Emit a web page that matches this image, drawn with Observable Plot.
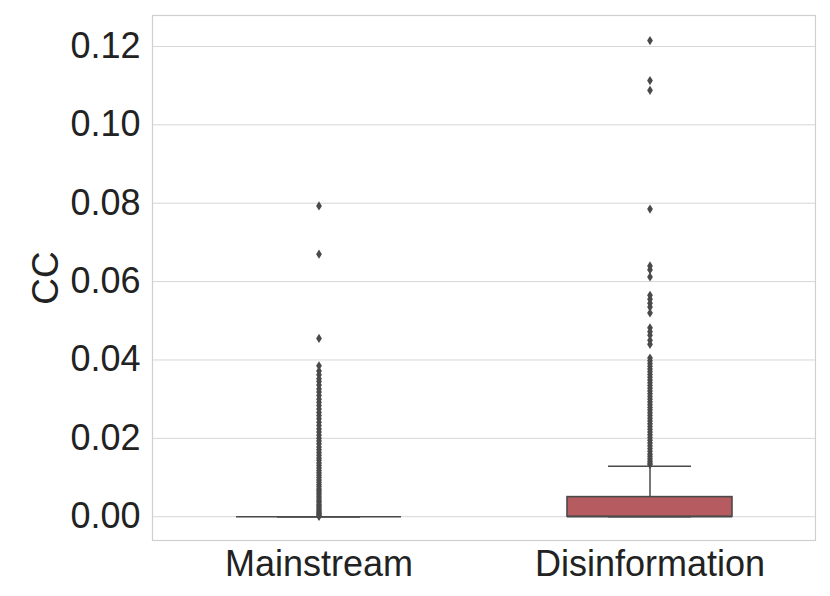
<!DOCTYPE html>
<html>
<head>
<meta charset="utf-8">
<script src="https://cdn.jsdelivr.net/npm/d3@7"></script>
<script src="https://cdn.jsdelivr.net/npm/@observablehq/plot@0.6"></script>
<style>
  html, body { margin: 0; padding: 0; background: #fff; }
  #chart { width: 830px; height: 596px; }
</style>
</head>
<body>
<div id="chart"></div>
<script>
// ---- data ----
const categories = ["Mainstream", "Disinformation"];
const q1 = [0, 0];
const median = [0, 0];
const q3 = [0, 0.0050];
const whiskerLow = [0, 0];
const whiskerHigh = [0, 0.0129];
const yTicks = [0, 0.02, 0.04, 0.06, 0.08, 0.10, 0.12];

const outliersMainstream = [
  0.0793, 0.0670, 0.0455, 0.0385, 0.0372, 0.0362, 0.0352, 0.0345, 0.0336, 0.0326,
  0.0318, 0.0309, 0.0300, 0.0292, 0.0284, 0.0275, 0.0266, 0.0258, 0.0250, 0.0241,
  0.0233, 0.0224, 0.0216, 0.0208, 0.0200, 0.0193, 0.0186, 0.0178, 0.0171, 0.0164,
  0.0157, 0.0150, 0.0144, 0.0137, 0.0131, 0.0124, 0.0118, 0.0112, 0.0106, 0.0100,
  0.0094, 0.0088, 0.0082, 0.0077, 0.0071, 0.0066, 0.0061, 0.0056, 0.0051, 0.0046,
  0.0041, 0.0037, 0.0032, 0.0028, 0.0024, 0.0020, 0.0016, 0.0012, 0.0009, 0.0006,
  0.0003, 0.0001
];
const outliersDisinformation = [
  0.1215, 0.1113, 0.1088, 0.0785, 0.0640, 0.0630, 0.0612, 0.0565, 0.0555, 0.0545,
  0.0535, 0.0520, 0.0482, 0.0472, 0.0463, 0.0450, 0.0440, 0.0405, 0.0398, 0.0391,
  0.0384, 0.0377, 0.0370, 0.0363, 0.0356, 0.0349, 0.0342, 0.0335, 0.0328, 0.0321,
  0.0314, 0.0307, 0.0300, 0.0293, 0.0286, 0.0279, 0.0272, 0.0265, 0.0258, 0.0251,
  0.0244, 0.0237, 0.0230, 0.0223, 0.0216, 0.0209, 0.0202, 0.0195, 0.0188, 0.0181,
  0.0174, 0.0167, 0.0160, 0.0154, 0.0148, 0.0142, 0.0137, 0.0133
];

// ---- tables ----
const boxes = categories.map((c, i) => ({
  cat: c, q1: q1[i], med: median[i], q3: q3[i], lo: whiskerLow[i], hi: whiskerHigh[i]
}));
const fliers = [
  ...outliersMainstream.map(v => ({cat: categories[0], v})),
  ...outliersDisinformation.map(v => ({cat: categories[1], v}))
];

const boxFill = ["#ffffff00", "#b65c60"];
const lineColor = "#4a4a4a";
const font = "'Liberation Sans', Arial, Helvetica, sans-serif";

// thin diamond (matplotlib 'd')
const thinDiamond = {
  draw(ctx, size) {
    const r = Math.sqrt(size / Math.PI);
    const h = r * 1.15, w = r * 0.72;
    ctx.moveTo(0, -h);
    ctx.lineTo(w, 0);
    ctx.lineTo(0, h);
    ctx.lineTo(-w, 0);
    ctx.closePath();
  }
};

const W = 830, H = 596;
const chart = Plot.plot({
  width: W,
  height: H,
  marginLeft: 152,
  marginRight: 15,
  marginTop: 15,
  marginBottom: 56,
  style: {fontFamily: font, color: "#222222", background: "#ffffff"},
  x: {type: "band", domain: categories, padding: 0, label: null},
  y: {domain: [-0.00607, 0.1279], label: null},
  marks: [
    Plot.gridY(yTicks, {stroke: "#d6d6d6", strokeOpacity: 1, strokeWidth: 1}),
    Plot.frame({stroke: "#cfcfcf", strokeWidth: 1.2}),
    Plot.axisY({ticks: yTicks, tickFormat: d3.format(".2f"), tickSize: 0, tickPadding: 12, fontSize: 36, label: null}),
    Plot.axisX({tickSize: 0, tickPadding: 10, fontSize: 36, label: null}),
    Plot.text(["CC"], {frameAnchor: "left", dx: -106, rotate: -90, textAnchor: "middle", fontSize: 37, fill: "#222222"}),
    // whiskers
    Plot.ruleX(boxes, {x: "cat", y1: "q3", y2: "hi", stroke: lineColor, strokeWidth: 1.5}),
    Plot.ruleX(boxes, {x: "cat", y1: "lo", y2: "q1", stroke: lineColor, strokeWidth: 1.5}),
    // boxes
    Plot.rectY(boxes, {x: "cat", y1: "q1", y2: "q3", fill: (d, i) => boxFill[i], stroke: lineColor, strokeWidth: 1.6, insetLeft: 83, insetRight: 83}),
    // median
    Plot.tickY(boxes, {x: "cat", y: "med", stroke: lineColor, strokeWidth: 1.6, insetLeft: 83, insetRight: 83}),
    // caps
    Plot.tickY(boxes, {x: "cat", y: "hi", stroke: lineColor, strokeWidth: 1.5, insetLeft: 124, insetRight: 124}),
    Plot.tickY(boxes, {x: "cat", y: "lo", stroke: lineColor, strokeWidth: 1.5, insetLeft: 124, insetRight: 124}),
    // outliers
    Plot.dot(fliers, {x: "cat", y: "v", symbol: thinDiamond, r: 4, fill: lineColor, stroke: null})
  ]
});
document.getElementById("chart").appendChild(chart);
</script>
</body>
</html>
